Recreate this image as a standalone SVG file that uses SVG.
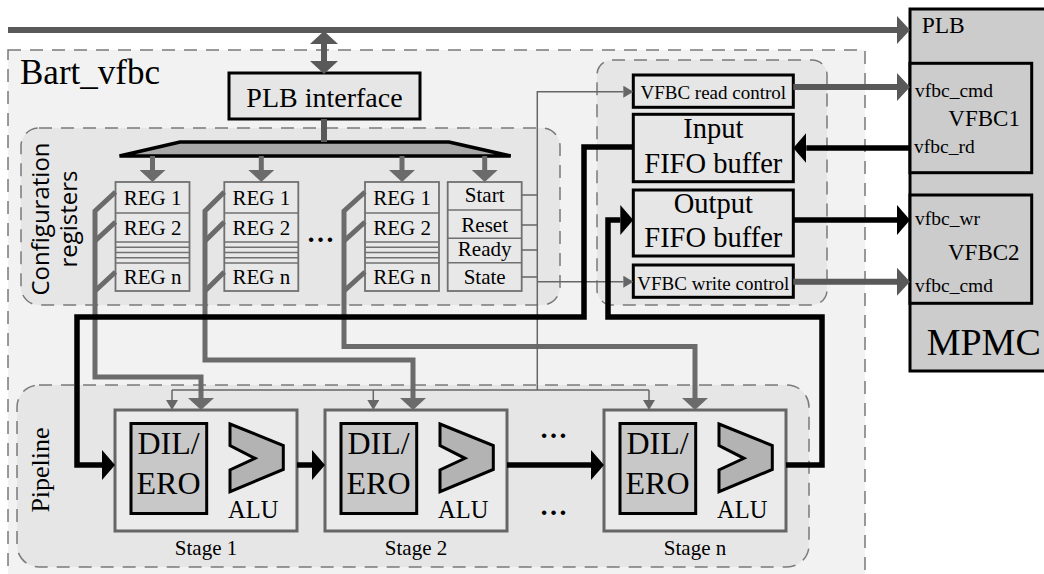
<svg xmlns="http://www.w3.org/2000/svg" width="1044" height="574" viewBox="0 0 1044 574">
<style>
.t{font-family:"Liberation Serif","Times New Roman",serif;fill:#000}
.s{font-family:"Open Sans","DejaVu Sans",sans-serif;fill:#000}
.dots{font-family:"Liberation Serif","Times New Roman",serif;fill:#000;font-weight:bold;font-size:28px}
.region{fill:#e6e6e6;stroke:#7a7a7a;stroke-width:1.5;stroke-dasharray:13 9}
.box{fill:#e6e6e6;stroke:#000;stroke-width:3}
.reg{fill:#e8e8e8;stroke:#707070;stroke-width:1.8}
.regl{stroke:#707070;stroke-width:1.5;fill:none}
.stage{fill:#ebebeb;stroke:#666;stroke-width:3}
.dil{fill:#c8c8c8;stroke:#000;stroke-width:3}
.alu{fill:#b3b3b3;stroke:#000;stroke-width:3;stroke-linejoin:miter}
.mp{fill:#cccccc;stroke:#000;stroke-width:3}
.bus{fill:none;stroke:#595959;stroke-width:6}
.wire{fill:none;stroke:#6b6b6b;stroke-width:5;stroke-linejoin:miter}
.blk{fill:none;stroke:#000;stroke-width:5.5;stroke-linejoin:miter}
.thin{fill:none;stroke:#666;stroke-width:1.5}
</style>
<defs>
<marker id="aGray" viewBox="0 0 13 28" refX="0" refY="14" markerWidth="13" markerHeight="28" markerUnits="userSpaceOnUse" orient="auto-start-reverse"><path d="M0,0 L13,14 L0,28 Z" fill="#595959"/></marker>
<marker id="aWire" viewBox="0 0 12 26" refX="0" refY="13" markerWidth="12" markerHeight="26" markerUnits="userSpaceOnUse" orient="auto"><path d="M0,0 L12,13 L0,26 Z" fill="#6b6b6b"/></marker>
<marker id="aBlack" viewBox="0 0 13 30" refX="0" refY="15" markerWidth="13" markerHeight="30" markerUnits="userSpaceOnUse" orient="auto"><path d="M0,0 L13,15 L0,30 Z" fill="#000"/></marker>
<marker id="aThin" viewBox="0 0 10 12" refX="0" refY="6" markerWidth="10" markerHeight="12" markerUnits="userSpaceOnUse" orient="auto"><path d="M0,0 L10,6 L0,12 Z" fill="#666"/></marker>
</defs>

<g id="bart_vfbc">
<rect x="8" y="50" width="857" height="545" fill="#f2f2f2" stroke="#7a7a7a" stroke-width="1.5" stroke-dasharray="13 9"/>
<text class="t" x="20" y="84" font-size="35">Bart_vfbc</text>
</g>

<g id="config_region">
<rect class="region" x="21" y="128" width="539" height="177" rx="18"/>
<text class="s" font-size="24" text-anchor="middle" transform="translate(49,219) rotate(-90)">Configuration</text>
<text class="s" font-size="24" text-anchor="middle" transform="translate(77,219) rotate(-90)">registers</text>
</g>

<g id="buffer_region">
<rect class="region" x="597" y="60" width="230" height="245" rx="15"/>
</g>

<g id="pipeline_region">
<rect class="region" x="17" y="385" width="792" height="182" rx="22"/>
<text class="t" font-size="26" text-anchor="middle" transform="translate(49,470) rotate(-90)">Pipeline</text>
</g>

<g id="plb_interface">
<rect class="box" x="229" y="73" width="191" height="46"/>
<text class="t" x="324.5" y="107" font-size="28" text-anchor="middle">PLB interface</text>
</g>

<g id="decoder">
<polygon points="119.5,156 180,142 449,142 510.7,156" fill="#a8a8a8" stroke="#000" stroke-width="3.5" stroke-linejoin="miter"/>
</g>

<g id="regs1">
<rect class="reg" x="115.5" y="182" width="74" height="109"/>
<path class="regl" d="M115.5,213H189.5M115.5,242H189.5M115.5,247.3H189.5M115.5,252.5H189.5M115.5,257.7H189.5M115.5,263H189.5"/>
<text class="t" x="152.5" y="205" font-size="21" text-anchor="middle">REG 1</text>
<text class="t" x="152.5" y="235" font-size="21" text-anchor="middle">REG 2</text>
<text class="t" x="152.5" y="284" font-size="21" text-anchor="middle">REG n</text>
</g>
<g id="regs2">
<rect class="reg" x="224.3" y="182" width="74" height="109"/>
<path class="regl" d="M224.3,213H298.3M224.3,242H298.3M224.3,247.3H298.3M224.3,252.5H298.3M224.3,257.7H298.3M224.3,263H298.3"/>
<text class="t" x="261.3" y="205" font-size="21" text-anchor="middle">REG 1</text>
<text class="t" x="261.3" y="235" font-size="21" text-anchor="middle">REG 2</text>
<text class="t" x="261.3" y="284" font-size="21" text-anchor="middle">REG n</text>
</g>
<g id="regs_dots">
<text class="dots" x="320.5" y="242" text-anchor="middle">…</text>
</g>
<g id="regs3">
<rect class="reg" x="365" y="182" width="74" height="109"/>
<path class="regl" d="M365,213H439M365,242H439M365,247.3H439M365,252.5H439M365,257.7H439M365,263H439"/>
<text class="t" x="402" y="205" font-size="21" text-anchor="middle">REG 1</text>
<text class="t" x="402" y="235" font-size="21" text-anchor="middle">REG 2</text>
<text class="t" x="402" y="284" font-size="21" text-anchor="middle">REG n</text>
</g>
<g id="control_regs">
<rect class="reg" x="447.7" y="182" width="74" height="109"/>
<path class="regl" d="M447.7,210H521.7M447.7,238.3H521.7M447.7,262.7H521.7"/>
<text class="t" x="484.7" y="202" font-size="21" text-anchor="middle">Start</text>
<text class="t" x="484.7" y="232" font-size="21" text-anchor="middle">Reset</text>
<text class="t" x="484.7" y="256" font-size="21" text-anchor="middle">Ready</text>
<text class="t" x="484.7" y="284" font-size="21" text-anchor="middle">State</text>
</g>

<g id="vfbc_read_control">
<rect class="box" x="633.3" y="75" width="160" height="32.3"/>
<text class="t" x="713.3" y="99" font-size="19" text-anchor="middle">VFBC read control</text>
</g>
<g id="input_fifo">
<rect class="box" x="633.3" y="114.3" width="160" height="67.4"/>
<text class="t" x="713.3" y="138.3" font-size="28.5" text-anchor="middle">Input</text>
<text class="t" x="713.3" y="172.7" font-size="28.5" text-anchor="middle">FIFO buffer</text>
</g>
<g id="output_fifo">
<rect class="box" x="633.3" y="190" width="160" height="66"/>
<text class="t" x="713.3" y="213.3" font-size="28.5" text-anchor="middle">Output</text>
<text class="t" x="713.3" y="246.7" font-size="28.5" text-anchor="middle">FIFO buffer</text>
</g>
<g id="vfbc_write_control">
<rect class="box" x="633.3" y="265" width="160" height="32.3"/>
<text class="t" x="713.3" y="289.5" font-size="19" text-anchor="middle">VFBC write control</text>
</g>

<g id="mpmc">
<rect class="mp" x="910" y="9" width="140" height="362"/>
<text class="t" x="921.7" y="33.3" font-size="23.5">PLB</text>
<text class="t" x="926.7" y="355" font-size="38">MPMC</text>
</g>
<g id="vfbc1">
<rect class="mp" x="910" y="63.3" width="121.7" height="109.4"/>
<text class="t" x="915" y="96.7" font-size="19.5">vfbc_cmd</text>
<text class="t" x="948.3" y="126" font-size="23">VFBC1</text>
<text class="t" x="914" y="153" font-size="19.5">vfbc_rd</text>
</g>
<g id="vfbc2">
<rect class="mp" x="910" y="195" width="121.7" height="108.3"/>
<text class="t" x="915" y="225" font-size="19.5">vfbc_wr</text>
<text class="t" x="948" y="260" font-size="23">VFBC2</text>
<text class="t" x="915" y="292" font-size="19.5">vfbc_cmd</text>
</g>

<g id="stage1">
<rect class="stage" x="115" y="410" width="182" height="121"/>
<rect class="dil" x="131" y="423.5" width="75.7" height="90"/>
<text class="t" x="168.5" y="454" font-size="32" text-anchor="middle">DIL/</text>
<text class="t" x="168.5" y="493.5" font-size="32" text-anchor="middle">ERO</text>
<polygon class="alu" points="230,424 283.3,445.5 283.3,469.5 230,491.7 230,470 255,458.3 230,445.5"/>
<text class="t" x="253.3" y="517.5" font-size="24.5" text-anchor="middle">ALU</text>
<text class="t" x="206" y="554.5" font-size="21" text-anchor="middle">Stage 1</text>
</g>
<g id="stage2">
<rect class="stage" x="325" y="410" width="182" height="121"/>
<rect class="dil" x="341" y="423.5" width="75.7" height="90"/>
<text class="t" x="378.5" y="454" font-size="32" text-anchor="middle">DIL/</text>
<text class="t" x="378.5" y="493.5" font-size="32" text-anchor="middle">ERO</text>
<polygon class="alu" points="440,424 493.3,445.5 493.3,469.5 440,491.7 440,470 465,458.3 440,445.5"/>
<text class="t" x="463.3" y="517.5" font-size="24.5" text-anchor="middle">ALU</text>
<text class="t" x="416" y="554.5" font-size="21" text-anchor="middle">Stage 2</text>
</g>
<g id="stage_dots">
<text class="dots" x="553.5" y="438" text-anchor="middle">…</text>
<text class="dots" x="553.5" y="515" text-anchor="middle">…</text>
</g>
<g id="stage_n">
<rect class="stage" x="604" y="410" width="182" height="121"/>
<rect class="dil" x="620" y="423.5" width="75.7" height="90"/>
<text class="t" x="657.5" y="454" font-size="32" text-anchor="middle">DIL/</text>
<text class="t" x="657.5" y="493.5" font-size="32" text-anchor="middle">ERO</text>
<polygon class="alu" points="719,424 772.3,445.5 772.3,469.5 719,491.7 719,470 744,458.3 719,445.5"/>
<text class="t" x="742.3" y="517.5" font-size="24.5" text-anchor="middle">ALU</text>
<text class="t" x="695" y="554.5" font-size="21" text-anchor="middle">Stage n</text>
</g>

<g id="connectors">
<path class="bus" d="M8,30H897" marker-end="url(#aGray)"/>
<path class="bus" d="M324,44V61" marker-start="url(#aGray)" marker-end="url(#aGray)"/>
<path class="bus" d="M324,119V142"/>
<path class="wire" d="M152.5,156V170" marker-end="url(#aWire)"/>
<path class="wire" d="M261.3,156V170" marker-end="url(#aWire)"/>
<path class="wire" d="M402,156V170" marker-end="url(#aWire)"/>
<path class="wire" d="M484.7,156V170" marker-end="url(#aWire)"/>
<path class="wire" d="M115.5,192L95,211V377H201V398" marker-end="url(#aWire)"/>
<path class="wire" d="M95,241L115.5,222M95,291L115.5,272"/>
<path class="wire" d="M224.3,192L205,211V360H413V398" marker-end="url(#aWire)"/>
<path class="wire" d="M205,241L224.3,222M205,291L224.3,272"/>
<path class="wire" d="M365,192L344,211V346.5H695V398" marker-end="url(#aWire)"/>
<path class="wire" d="M344,241L365,222M344,291L365,272"/>
<path class="thin" d="M521.7,195H537.3M521.7,225H537.3M521.7,250H537.3M521.7,277H537.3"/>
<path class="thin" d="M537.3,390V91.7H623.3" marker-end="url(#aThin)"/>
<path class="thin" d="M537.3,281.7H623.3" marker-end="url(#aThin)"/>
<path class="thin" d="M172,390H649"/>
<path class="thin" d="M172,390V400" marker-end="url(#aThin)"/>
<path class="thin" d="M373.3,390V400" marker-end="url(#aThin)"/>
<path class="thin" d="M649,390V400" marker-end="url(#aThin)"/>
<path class="bus" d="M793.3,87H897" marker-end="url(#aGray)"/>
<path class="bus" d="M793.3,281.7H897" marker-end="url(#aGray)"/>
<path class="blk" d="M910,148H806.3" marker-end="url(#aBlack)"/>
<path class="blk" d="M633.3,147H584V317H77V465H102" marker-end="url(#aBlack)"/>
<path class="blk" d="M793.3,220H897" marker-end="url(#aBlack)"/>
<path class="blk" d="M297,465H312" marker-end="url(#aBlack)"/>
<path class="blk" d="M507,465H591" marker-end="url(#aBlack)"/>
<path class="blk" d="M786,465H822V317H608V220H620.3" marker-end="url(#aBlack)"/>
</g>
</svg>
